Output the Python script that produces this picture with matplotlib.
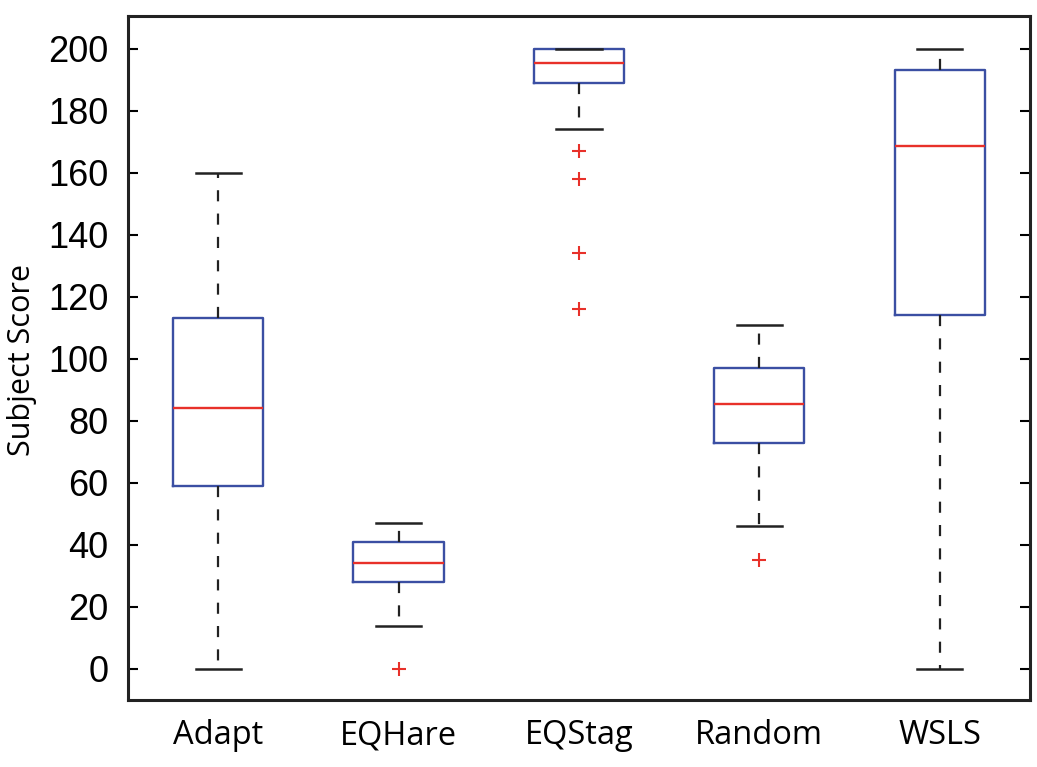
import matplotlib
matplotlib.use("Agg")
import matplotlib.pyplot as plt

# Summary statistics per strategy
categories = ["Adapt", "EQHare", "EQStag", "Random", "WSLS"]
whisker_low = [0, 14, 174, 46, 0]
q1 = [59, 28, 189, 73, 114]
median = [84, 34, 195.5, 85.5, 168.5]
q3 = [113, 41, 200, 97, 193]
whisker_high = [160, 47, 200, 111, 200]
outliers = [[], [0], [167, 158, 134, 116], [35], []]

stats = []
for i, name in enumerate(categories):
    stats.append(dict(label=name, whislo=whisker_low[i], q1=q1[i], med=median[i],
                      q3=q3[i], whishi=whisker_high[i], fliers=outliers[i]))

fig = plt.figure(figsize=(10.37, 7.67), dpi=100)
ax = fig.add_axes([0.1234, 0.0874, 0.8698, 0.8917])

box_color = "#3b4fa3"
ax.bxp(stats, positions=range(1, 6), widths=0.5, showfliers=True,
       boxprops=dict(color=box_color, linewidth=1.7),
       medianprops=dict(color="#e8312a", linewidth=1.7),
       whiskerprops=dict(color="#222222", linewidth=1.6, linestyle=(0, (5.0, 5.5))),
       capprops=dict(color="#222222", linewidth=1.8),
       flierprops=dict(marker="+", markeredgecolor="#e8312a", markersize=10,
                       markeredgewidth=1.5, linestyle="none"))

ax.set_xlim(0.5, 5.5)
ax.set_ylim(-10, 210.5)
ax.set_yticks(range(0, 201, 20))
ax.set_xticks(range(1, 6))
ax.set_xticklabels(categories, fontfamily="Open Sans", fontsize=23.5)
for lbl in ax.get_yticklabels():
    lbl.set_fontfamily("Liberation Sans")
    lbl.set_fontsize(26)
ax.tick_params(axis="y", direction="in", length=7, width=1.5, right=True, pad=14)
ax.tick_params(axis="x", length=0, pad=14)
for s in ax.spines.values():
    s.set_linewidth(2.2)
    s.set_color("#222222")
ax.set_ylabel("Subject Score", fontfamily="Open Sans", fontsize=22)
ax.yaxis.set_label_coords(-0.101, 0.497)

fig.savefig("out.png", dpi=100)
